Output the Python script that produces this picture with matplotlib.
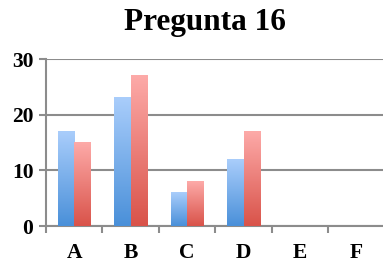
import matplotlib.pyplot as plt
import numpy as np
from matplotlib.colors import LinearSegmentedColormap

categories = ['A', 'B', 'C', 'D', 'E', 'F']
serie1 = [17, 23, 6, 12, 0, 0]
serie2 = [15, 27, 8, 17, 0, 0]

plt.rcParams['font.family'] = ['Liberation Serif', 'DejaVu Serif']

fig = plt.figure(figsize=(3.83, 2.66), dpi=100)
ax = fig.add_axes([0.120, 0.150, 0.885, 0.628])

x = np.arange(len(categories))
w = 0.29
blue = LinearSegmentedColormap.from_list('b', ['#4a90d9', '#a9cdfb'])
red = LinearSegmentedColormap.from_list('r', ['#d9534a', '#fdaaa8'])

grad = np.linspace(0, 1, 100).reshape(-1, 1)
for vals, off, cmap in [(serie1, -w / 2, blue), (serie2, w / 2, red)]:
    bars = ax.bar(x + off, vals, w, color='none', zorder=3)
    for b in bars:
        if b.get_height() <= 0:
            continue
        x0, x1 = b.get_x(), b.get_x() + b.get_width()
        ax.imshow(grad, cmap=cmap, origin='lower', aspect='auto',
                  extent=[x0, x1, 0, b.get_height()], zorder=3)

ax.set_xlim(-0.5, len(categories) - 0.5)
ax.set_ylim(0, 30)
ax.set_yticks([0, 10, 20, 30])
ax.set_xticks(x)
ax.set_xticklabels(categories)
ax.set_xticks(np.arange(len(categories) + 1) - 0.5, minor=True)
ax.tick_params(axis='x', which='major', length=0, pad=12)
ax.tick_params(axis='x', which='minor', length=5, width=1.5, color='#8c8c8c')
ax.tick_params(axis='y', length=5, width=1.5, color='#8c8c8c', pad=4)
for lab in ax.get_xticklabels() + ax.get_yticklabels():
    lab.set_fontweight('bold')
    lab.set_fontsize(15.5)

ax.grid(axis='y', color='#8c8c8c', linewidth=1.5, zorder=0)
for s in ['top', 'right']:
    ax.spines[s].set_visible(False)
for s in ['left', 'bottom']:
    ax.spines[s].set_color('#8c8c8c')
    ax.spines[s].set_linewidth(1.5)

fig.text(0.535, 0.915, 'Pregunta 16', ha='center', va='center',
         fontsize=22.5, fontweight='bold')

fig.savefig('out.png', dpi=100)
